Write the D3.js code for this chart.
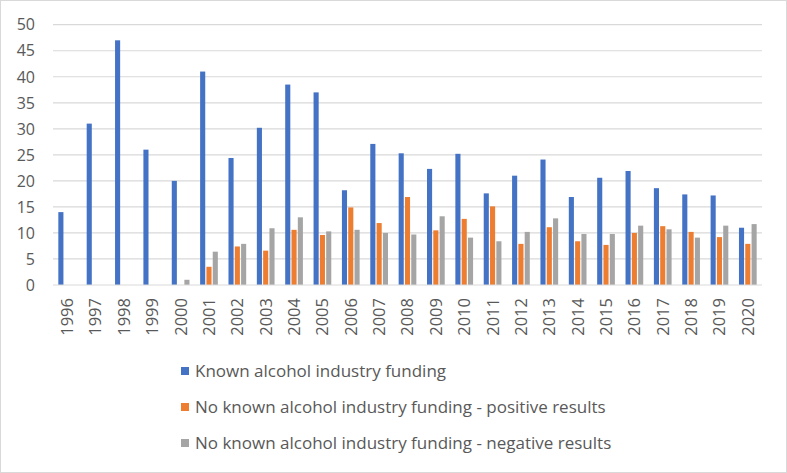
<!DOCTYPE html>
<html>
<head>
<meta charset="utf-8">
<script src="https://cdn.jsdelivr.net/npm/d3@7"></script>
<style>
  html, body { margin: 0; padding: 0; background: #fff; }
  svg { display: block; }
  text { font-family: "Open Sans", sans-serif; }
</style>
</head>
<body>
<svg id="chart" width="787" height="473"></svg>
<script>
const years = ["1996","1997","1998","1999","2000","2001","2002","2003","2004","2005","2006","2007","2008","2009","2010","2011","2012","2013","2014","2015","2016","2017","2018","2019","2020"];
const seriesNames = [
  "Known alcohol industry funding",
  "No known alcohol industry funding - positive results",
  "No known alcohol industry funding - negative results"
];
const knownFunding = [14, 31, 47, 26, 20, 41, 24.4, 30.2, 38.5, 37, 18.2, 27.1, 25.3, 22.3, 25.2, 17.6, 21, 24.1, 16.9, 20.6, 21.9, 18.6, 17.4, 17.2, 11];
const noFundingPositive = [0, 0, 0, 0, 0, 3.5, 7.4, 6.6, 10.6, 9.6, 14.9, 11.9, 16.9, 10.5, 12.7, 15.1, 7.9, 11.1, 8.4, 7.7, 10, 11.3, 10.2, 9.2, 7.9];
const noFundingNegative = [0, 0, 0, 0, 1, 6.4, 7.9, 10.9, 13, 10.3, 10.6, 10, 9.7, 13.2, 9.1, 8.4, 10.2, 12.8, 9.8, 9.8, 11.4, 10.7, 9.1, 11.4, 11.7];
const yTicks = [0, 5, 10, 15, 20, 25, 30, 35, 40, 45, 50];
const colors = ["#4472C4", "#ED7D31", "#A5A5A5"];

const allSeries = [knownFunding, noFundingPositive, noFundingNegative];
const svg = d3.select("#chart");
const W = 787, H = 473;

// outer border
svg.append("rect").attr("x", 0.5).attr("y", 0.5).attr("width", W - 1).attr("height", H - 1)
  .attr("fill", "#fff").attr("stroke", "#d9d9d9").attr("stroke-width", 1);

const plot = { left: 53, right: 762, top: 24.7, bottom: 285 };

const x = d3.scaleBand().domain(years).range([plot.left, plot.right]).paddingInner(0).paddingOuter(0);
const y = d3.scaleLinear().domain([0, 50]).range([plot.bottom, plot.top]);

// gridlines
svg.append("g").selectAll("line").data(yTicks.filter(t => t > 0)).join("line")
  .attr("x1", plot.left).attr("x2", plot.right)
  .attr("y1", d => y(d)).attr("y2", d => y(d))
  .attr("stroke", "#d9d9d9").attr("stroke-width", 1.2);

// y labels
svg.append("g").selectAll("text").data(yTicks).join("text")
  .attr("x", 35).attr("y", d => y(d)).attr("dy", "0.36em")
  .attr("text-anchor", "end").attr("font-size", 16).attr("fill", "#595959")
  .text(d => d);

// bars
const groupWidth = x.bandwidth() / 1.5;
const sub = d3.scaleBand().domain([0, 1, 2]).range([0, groupWidth]).padding(0);
const barsG = svg.append("g");
allSeries.forEach((vals, si) => {
  barsG.append("g").selectAll("rect").data(vals.map((v, i) => ({ v, year: years[i] }))).join("rect")
    .filter(d => d.v > 0)
    .attr("x", d => x(d.year) + (x.bandwidth() - groupWidth) / 2 + sub(si) + 0.6)
    .attr("width", sub.bandwidth() - 1.2)
    .attr("y", d => y(d.v))
    .attr("height", d => y(0) - y(d.v))
    .attr("fill", colors[si]);
});

// x axis line
svg.append("line").attr("x1", plot.left).attr("x2", plot.right)
  .attr("y1", y(0)).attr("y2", y(0)).attr("stroke", "#d9d9d9").attr("stroke-width", 1.2);

// x labels
svg.append("g").selectAll("text").data(years).join("text")
  .attr("transform", d => `translate(${x(d) + x.bandwidth() / 2},298) rotate(-90)`)
  .attr("dy", "0.36em")
  .attr("text-anchor", "end").attr("font-size", 16.5).attr("fill", "#595959")
  .text(d => d);

// legend
const legend = svg.append("g");
seriesNames.forEach((name, i) => {
  const cy = 371 + i * 36;
  legend.append("rect").attr("x", 181).attr("y", cy - 4).attr("width", 8).attr("height", 8).attr("fill", colors[i]);
  legend.append("text").attr("x", 195).attr("y", cy).attr("dy", "0.36em")
    .attr("font-size", 17).attr("fill", "#595959").text(name);
});
</script>
</body>
</html>
